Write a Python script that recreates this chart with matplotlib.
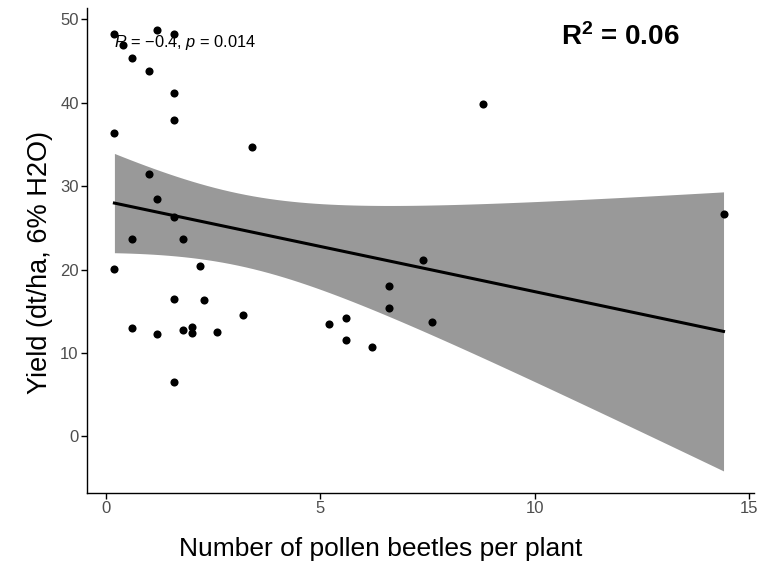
import matplotlib
matplotlib.use('Agg')
from matplotlib import pyplot as plt
import numpy as np

plt.rcParams['font.family'] = ['Liberation Sans', 'DejaVu Sans']
plt.rcParams['mathtext.fontset'] = 'custom'
plt.rcParams['mathtext.rm'] = 'Liberation Sans'
plt.rcParams['mathtext.it'] = 'Liberation Sans:italic'
plt.rcParams['mathtext.bf'] = 'Liberation Sans:bold'

# pollen beetles per plant vs yield
beetles = [0.2, 0.4, 0.6, 1.0, 1.2, 1.6, 1.6, 1.6, 0.2, 3.4,
           1.0, 1.2, 1.6, 0.6, 1.8, 0.2, 2.2, 1.6, 2.3, 3.2,
           0.6, 1.2, 1.8, 2.0, 2.0, 2.6, 1.6, 5.2, 5.6, 5.6,
           6.2, 6.6, 6.6, 7.4, 7.6, 8.8, 14.4]
yields = [48.2, 46.9, 45.4, 43.8, 48.7, 48.2, 41.2, 37.9, 36.3, 34.7,
          31.5, 28.5, 26.3, 23.6, 23.6, 20.1, 20.4, 16.5, 16.3, 14.6,
          13.0, 12.3, 12.7, 13.1, 12.4, 12.5, 6.5, 13.5, 14.2, 11.6,
          10.75, 18.0, 15.4, 21.1, 13.7, 39.8, 26.7]
xticks = [0, 5, 10, 15]
yticks = [0, 10, 20, 30, 40, 50]
cor_label = r'$\it{R}$ = −0.4, $\it{p}$ = 0.014'
r2_label = r'$\mathbf{R^2}$ = 0.06'

x = np.array(beetles)
y = np.array(yields)
n = len(x)

# linear fit with 95% confidence band (like geom_smooth(method='lm'))
slope, icpt = np.polyfit(x, y, 1)
xs = np.linspace(x.min(), x.max(), 80)
fit = icpt + slope * xs
resid = y - (icpt + slope * x)
s = np.sqrt(np.sum(resid ** 2) / (n - 2))
sxx = np.sum((x - x.mean()) ** 2)
se = s * np.sqrt(1.0 / n + (xs - x.mean()) ** 2 / sxx)
t_crit = 2.03
lo = fit - t_crit * se
hi = fit + t_crit * se

fig = plt.figure(figsize=(7.81, 5.64), dpi=100)
ax = fig.add_axes([0.1114, 0.1259, 0.854, 0.86])

ax.fill_between(xs, lo, hi, color='#999999', linewidth=0, zorder=1)
ax.plot(xs, fit, color='black', linewidth=2.2, zorder=2)
ax.scatter(x, y, s=34, color='black', zorder=3, linewidths=0)

ax.text(0.2, 47.2, cor_label, fontsize=11.8, va='center', ha='left', zorder=4)
ax.text(12.0, 47.9, r2_label, fontsize=20, fontweight='bold', va='center', ha='center')

xr = x.max() - x.min()
ax.set_xlim(x.min() - 0.045 * xr, x.max() + 0.05 * xr)
ymin = min(lo.min(), y.min())
ymax = max(hi.max(), y.max())
yr = ymax - ymin
ax.set_ylim(ymin - 0.05 * yr, ymax + 0.05 * yr)

ax.set_xticks(xticks)
ax.set_yticks(yticks)
for sp in ['top', 'right']:
    ax.spines[sp].set_visible(False)
for sp in ['left', 'bottom']:
    ax.spines[sp].set_linewidth(1.0)
ax.tick_params(direction='out', length=4, width=1, labelsize=12, labelcolor='#4D4D4D', pad=2)

ax.set_xlabel('Number of pollen beetles per plant', fontsize=19, va='center')
ax.xaxis.set_label_coords(0.44, -0.115)
ax.set_ylabel('Yield (dt/ha, 6% H2O)', fontsize=19.5, va='center')
ax.yaxis.set_label_coords(-0.07, 0.476)

fig.savefig('out.png', dpi=100)
